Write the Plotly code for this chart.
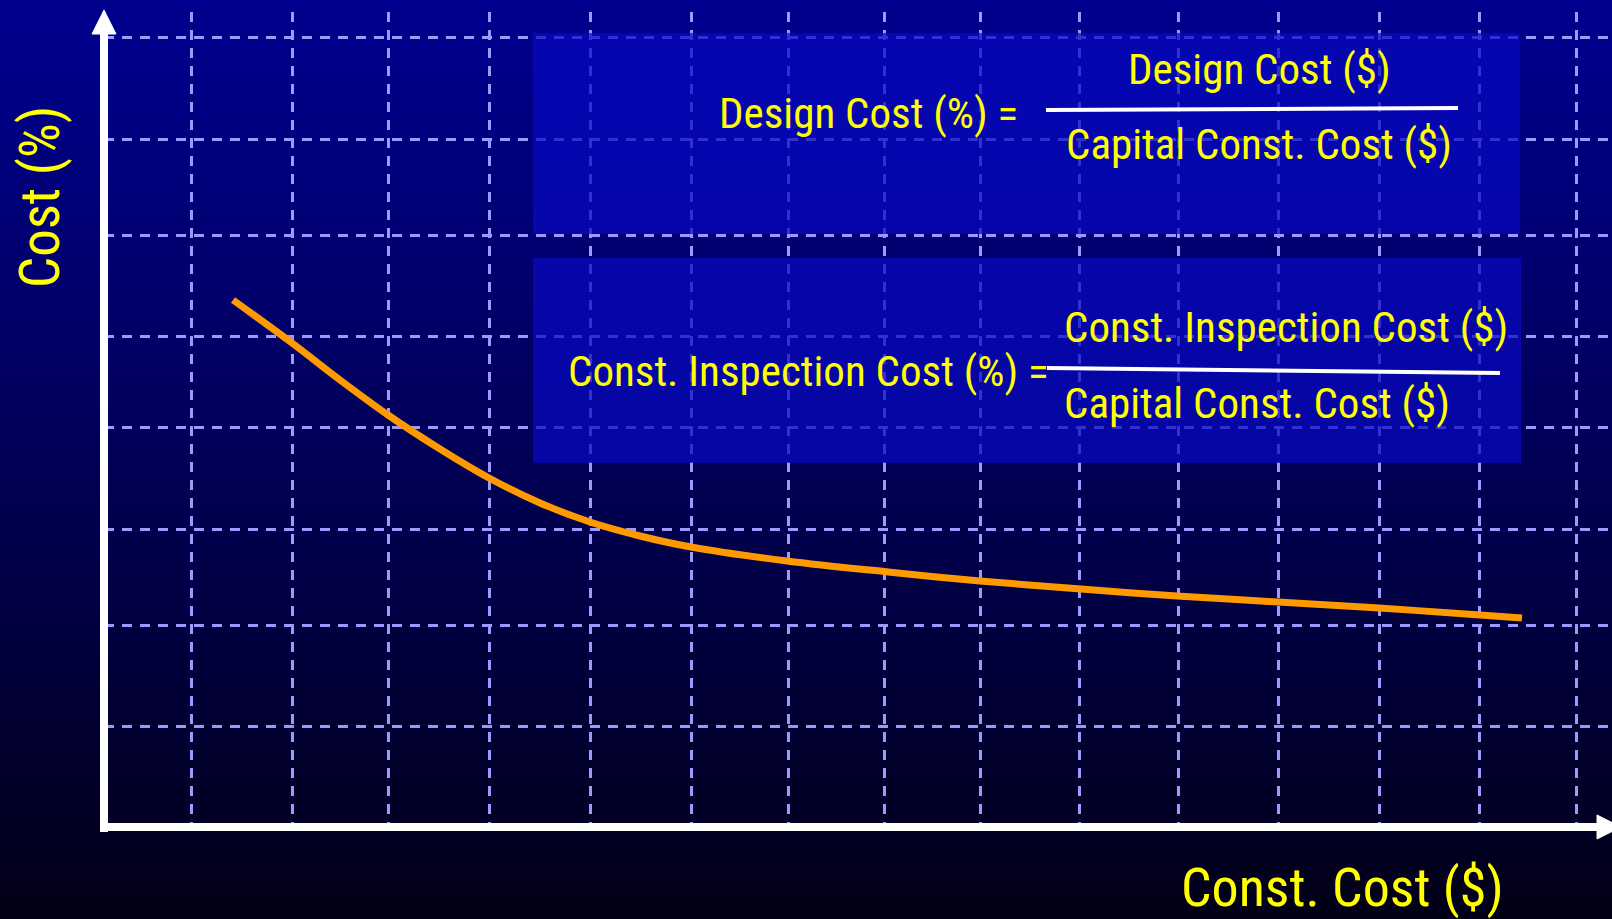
import plotly.graph_objects as go

# ---------------- data (in grid units) ----------------
const_cost = [1.29, 1.88, 2.36, 2.84, 3.36, 3.85, 4.36, 4.86, 5.36, 5.87,
              6.83, 7.84, 8.76, 9.77, 10.73, 11.74, 12.75, 13.76, 14.18]
cost_pct = [5.28, 4.85, 4.48, 4.13, 3.79, 3.50, 3.25, 3.06, 2.92, 2.81,
            2.67, 2.56, 2.47, 2.39, 2.32, 2.26, 2.20, 2.13, 2.10]
x_grid = [0.87, 1.88, 2.84, 3.85, 4.86, 5.87, 6.84, 7.80, 8.76, 9.75,
          10.74, 11.74, 12.75, 13.75, 14.72]
y_grid = [1.02, 2.03, 2.99, 4.01, 4.92, 5.93, 6.89, 7.91]

x_title = "Const. Cost ($)"
y_title = "Cost (%)"
eq1_left = "Design Cost (%) ="
eq1_num = "Design Cost ($)"
eq1_den = "Capital Const. Cost ($)"
eq2_left = "Const. Inspection Cost (%) ="
eq2_num = "Const. Inspection Cost ($)"
eq2_den = "Capital Const. Cost ($)"

# ---------------- layout helpers ----------------
W, H = 1612, 919
ML, MR, MT, MB = 104, 0, 12, 91
PW, PH = W - ML - MR, H - MT - MB
XR = PW / 100.0
YR = PH / 100.0


def X(px):
    return (px - ML) / 100.0


def Y(py):
    return (H - MB - py) / 100.0


def PX(px):
    return (px - ML) / PW


def PY(py):
    return (H - MB - py) / PH


FONT = "Liberation Sans Narrow, Arial Narrow, Roboto Condensed, Arial, sans-serif"
YELLOW = "#ffff00"
GRID = "#9a9aff"

fig = go.Figure()
fig.add_trace(go.Scatter(
    x=const_cost, y=cost_pct, mode="lines",
    line=dict(color="#ff9900", width=7, shape="spline", smoothing=1.0),
    cliponaxis=False, hoverinfo="skip", showlegend=False,
))

shapes = []
# background vertical gradient
n = 92
for i in range(n):
    t = i / (n - 1)
    b = int(round(142 - 120 * t ** 1.1))
    r = int(round(2 * t))
    p0 = i * H / n
    p1 = (i + 1) * H / n + 1
    shapes.append(dict(type="rect", xref="paper", yref="paper",
                       x0=PX(-5), x1=PX(W + 5), y0=PY(p1), y1=PY(p0),
                       line=dict(width=0), fillcolor=f"rgb({r},0,{b})",
                       layer="below"))
# formula boxes
for (x0, x1, y0, y1) in [(533, 1520, 33, 234), (533, 1521, 258, 463)]:
    shapes.append(dict(type="rect", xref="x", yref="y",
                       x0=X(x0), x1=X(x1), y0=Y(y1), y1=Y(y0),
                       line=dict(width=0), fillcolor="rgba(8,8,192,0.72)",
                       layer="between"))
# fraction bars
shapes.append(dict(type="line", xref="paper", yref="paper", x0=PX(1046), y0=PY(110),
                   x1=PX(1458), y1=PY(108), line=dict(color="white", width=4)))
shapes.append(dict(type="line", xref="paper", yref="paper", x0=PX(1047), y0=PY(368),
                   x1=PX(1500), y1=PY(373), line=dict(color="white", width=4)))
# axes with arrows
shapes.append(dict(type="line", xref="paper", yref="paper", x0=PX(104), y0=PY(832),
                   x1=PX(104), y1=PY(30), line=dict(color="white", width=8)))
shapes.append(dict(type="line", xref="paper", yref="paper", x0=PX(100), y0=PY(827),
                   x1=PX(1600), y1=PY(827), line=dict(color="white", width=8)))
shapes.append(dict(type="path", xref="paper", yref="paper",
                   path=f"M {PX(92)} {PY(34)} L {PX(104)} {PY(10)} L {PX(116)} {PY(34)} Z",
                   fillcolor="white", line=dict(color="white", width=1)))
shapes.append(dict(type="path", xref="paper", yref="paper",
                   path=f"M {PX(1597)} {PY(815)} L {PX(1621)} {PY(827)} L {PX(1597)} {PY(839)} Z",
                   fillcolor="white", line=dict(color="white", width=1)))

ann = []


def text(t, x, y, size, xanchor="center", angle=0):
    ann.append(dict(text=t, x=PX(x), y=PY(y), xref="paper", yref="paper",
                    xanchor=xanchor, yanchor="middle", showarrow=False,
                    textangle=angle, font=dict(family=FONT, size=size, color=YELLOW)))


text(eq1_left, 717, 113, 43, "left")
text(eq1_num, 1259, 69, 43)
text(eq1_den, 1259, 144, 43)
text(eq2_left, 566, 371, 43, "left")
text(eq2_num, 1286, 327, 43)
text(eq2_den, 1257, 403, 43)
text(y_title, 40, 197, 55, angle=-90)
text(x_title, 1342, 887, 54)

fig.update_layout(
    width=W, height=H,
    margin=dict(l=ML, r=MR, t=MT, b=MB, pad=0),
    paper_bgcolor="#000040", plot_bgcolor="rgba(0,0,0,0)",
    shapes=shapes, annotations=ann, showlegend=False,
    xaxis=dict(range=[0, XR], tickvals=x_grid, showticklabels=False, ticks="",
               showgrid=True, gridcolor=GRID, gridwidth=2.5, griddash="10px,8px",
               zeroline=False, showline=False, fixedrange=True),
    yaxis=dict(range=[0, YR], tickvals=y_grid, showticklabels=False, ticks="",
               showgrid=True, gridcolor=GRID, gridwidth=2.5, griddash="10px,8px",
               zeroline=False, showline=False, fixedrange=True),
)

fig.write_html("out.html", config={"displayModeBar": False},
               post_script="document.body.style.margin='0';"
                           "document.body.style.background='#000010';")
